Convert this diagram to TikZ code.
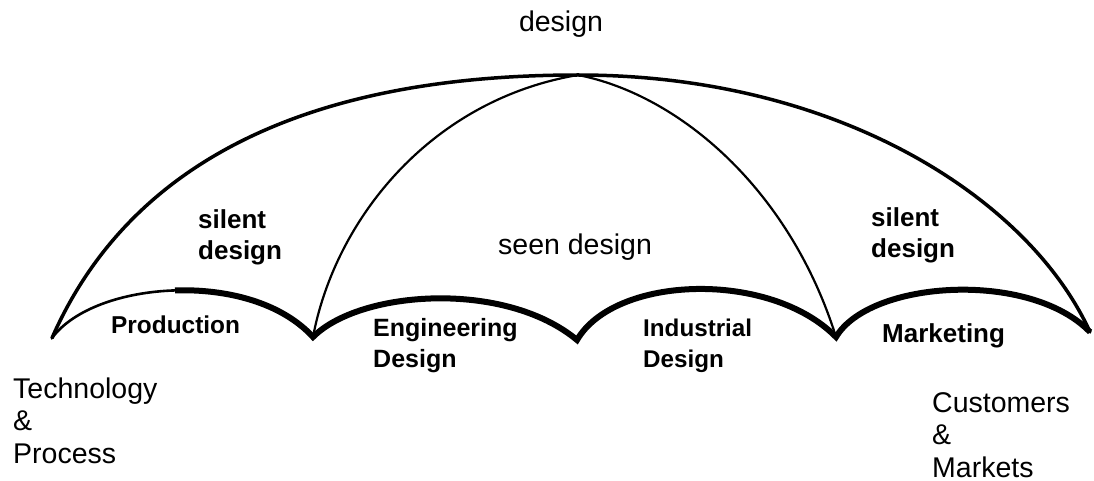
\documentclass[tikz,border=0pt]{standalone}
\usepackage{fontspec}
\setmainfont{Liberation Sans}
\begin{document}
\begin{tikzpicture}[x=1pt,y=-1pt,
  outer/.style={line width=3.5pt,line cap=round},
  rib/.style={line width=2.2pt,line cap=round},
  scallop/.style={line width=6pt,line cap=butt,line join=miter},
  thinscallop/.style={line width=2.6pt,line cap=round},
  lab/.style={font=\fontsize{#1}{31}\selectfont\bfseries,anchor=base west,align=left,inner sep=0pt},
  big/.style={font=\fontsize{28.5}{32.3}\selectfont,anchor=base west,align=left,inner sep=0pt}]
\useasboundingbox (0,0) rectangle (1094,481);
\fill[white] (0,0) rectangle (1094,481);
% key points
\coordinate (tl) at (52,338);
\coordinate (apex) at (578,75);
\coordinate (tr) at (1090,332);
\coordinate (v1) at (313,337);
\coordinate (v2) at (577,340);
\coordinate (v3) at (836,337);
\coordinate (pm) at (175,290.4);
% outer canopy
\draw[outer] (tl) .. controls (115,195) and (260,75) .. (apex)
             .. controls (840,75) and (1030,200) .. (tr);
% inner ribs
\draw[rib] (v1) .. controls (335,220) and (430,100) .. (apex);
\draw[rib] (apex) .. controls (680,95) and (790,190) .. (v3);
% scallops
\draw[thinscallop] (tl) .. controls (73.5,309) and (123,292) .. (pm);
\draw[scallop] (pm) .. controls (227,288.75) and (281.5,302.5) .. (v1)
   .. controls (360,290) and (505,280) .. (v2)
   .. controls (615,275) and (770,270) .. (v3)
   .. controls (870,280) and (1030,270) .. (tr);
% labels (base anchor = baseline of last line)
\node[big,anchor=base] (top) at (561,32) {design};
\node[lab=26] (sdl) at (198,259) {silent\\design};
\node[big] (seen) at (498,254) {seen design};
\node[lab=26] (sdr) at (871,257) {silent\\design};
\node[lab=24.4] (prod) at (111,333) {Production};
\node[lab=25] (eng) at (373,367) {Engineering\\Design};
\node[lab=24.2] (ind) at (643,367) {Industrial\\Design};
\node[lab=26] (mkt) at (882,342) {Marketing};
\node[big] (tech) at (13,463) {Technology\\\&\\Process};
\node[big] (cust) at (932,477) {Customers\\\&\\Markets};
\end{tikzpicture}
\end{document}
